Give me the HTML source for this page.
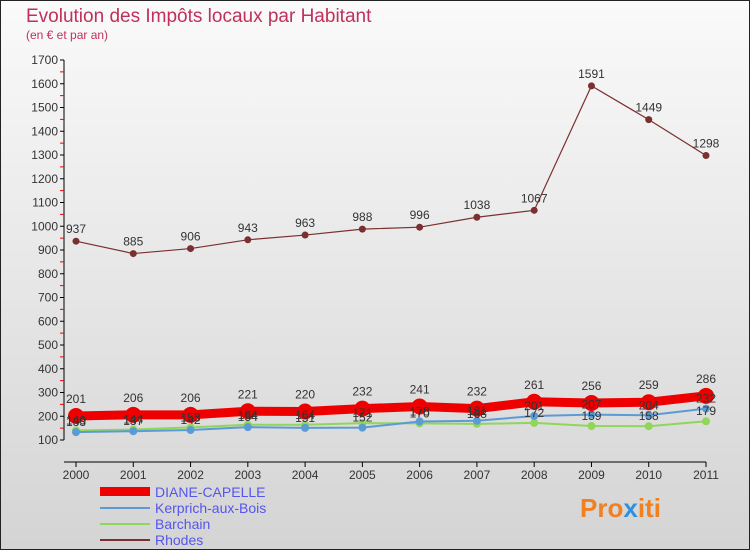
<!DOCTYPE html>
<html><head><meta charset="utf-8"><style>
body{margin:0;width:750px;height:550px;overflow:hidden;font-family:"Liberation Sans",sans-serif}
svg text{font-family:"Liberation Sans",sans-serif}
</style></head><body>
<svg id="c" width="750" height="550">
<defs>
<linearGradient id="bg" x1="0" y1="0" x2="0" y2="1"><stop offset="0" stop-color="#fafafa"/><stop offset="1" stop-color="#d4d4d4"/></linearGradient>
</defs>
<rect x="0.5" y="0.5" width="749" height="549" fill="url(#bg)" stroke="#222"/>
<text x="26" y="22" font-size="19" fill="#c0305a">Evolution des Impôts locaux par Habitant</text>
<text x="26" y="39" font-size="12" fill="#c0305a">(en € et par an)</text>
<g id="axes"></g><g id="series"></g><g id="labels"></g>
<g font-size="14">
<rect x="100" y="487" width="50" height="9" fill="#ee0000"/>
<text x="155" y="497" fill="#5555ee">DIANE-CAPELLE</text>
<line x1="100" y1="508" x2="150" y2="508" stroke="#5b9bd5" stroke-width="2"/>
<text x="155" y="513" fill="#5555ee">Kerprich-aux-Bois</text>
<line x1="100" y1="524" x2="150" y2="524" stroke="#8fd65a" stroke-width="2"/>
<text x="155" y="529" fill="#5555ee">Barchain</text>
<line x1="100" y1="540" x2="150" y2="540" stroke="#7a3030" stroke-width="2"/>
<text x="155" y="545" fill="#5555ee">Rhodes</text>
</g>
<text x="580" y="517" font-size="26" font-weight="bold" fill="#f08020">Pro<tspan fill="#3090e0">x</tspan>iti</text>
</svg>
<script>
const years=[2000,2001,2002,2003,2004,2005,2006,2007,2008,2009,2010,2011];
const yTicks=[100,200,300,400,500,600,700,800,900,1000,1100,1200,1300,1400,1500,1600,1700];
const diane=[201,206,206,221,220,232,241,232,261,256,259,286];
const kerprich=[133,137,142,154,151,152,178,181,201,207,204,232];
const barchain=[140,144,153,164,164,171,170,168,172,159,158,179];
const rhodes=[937,885,906,943,963,988,996,1038,1067,1591,1449,1298];
const NS="http://www.w3.org/2000/svg";
const X=i=>76+i*(630/11);
const Y=v=>440-(v-100)*380/1600;
function mk(tag,a,p){const e=document.createElementNS(NS,tag);for(const k in a)e.setAttribute(k,a[k]);p.appendChild(e);return e;}
const ax=document.getElementById('axes'),se=document.getElementById('series'),lb=document.getElementById('labels');
let l=mk('line',{x1:64,y1:60,x2:64,y2:440,stroke:'#000'},ax);


l=mk('line',{x1:64,y1:462,x2:706,y2:462,stroke:'#000'},ax);


yTicks.forEach((v,i)=>{
 const y=Y(v);
 mk('line',{x1:60,y1:y,x2:64,y2:y,stroke:'#000'},ax);
 if(i<yTicks.length-1) mk('line',{x1:60,y1:Y(v+50),x2:64,y2:Y(v+50),stroke:'#e00'},ax);
 const t=mk('text',{x:58,y:y+4,'font-size':12,fill:'#333','text-anchor':'end'},ax);t.textContent=v;
 
 
});
years.forEach((yr,i)=>{
 mk('line',{x1:X(i),y1:462,x2:X(i),y2:467,stroke:'#000'},ax);
 const t=mk('text',{x:X(i),y:465+14,'font-size':12,fill:'#333','text-anchor':'middle'},ax);t.textContent=yr;
 
 
});
function series(data,color,w,r,name,labelDy){
 const p=mk('polyline',{points:data.map((v,i)=>X(i)+','+Y(v)).join(' '),fill:'none',stroke:color,'stroke-width':w},se);
 
 
 data.forEach((v,i)=>{
  const c=mk('circle',{cx:X(i),cy:Y(v),r:r,fill:color},se);
  
  
  const t=mk('text',{x:X(i),y:Y(v)+labelDy,'font-size':12,fill:'#333','text-anchor':'middle'},lb);t.textContent=v;
  
  
 });
}
series(barchain,'#8fd65a',2,4,'barchain',-6);
series(kerprich,'#5b9bd5',2,4,'kerprich',-6);
series(diane,'#ee0000',9,8,'diane',-13);
series(rhodes,'#7a3030',1.2,3.5,'rhodes',-8);
</script>
</body></html>
